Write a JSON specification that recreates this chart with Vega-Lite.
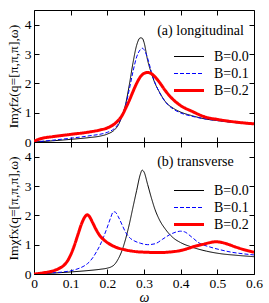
{
  "$schema": "https://vega.github.io/schema/vega-lite/v6.json",
  "padding": {"left": 5, "top": 9, "right": 13, "bottom": 0},
  "background": "white",
  "spacing": 0,
  "bounds": "flush",
  "config": {
    "view": {"stroke": "black", "strokeWidth": 1},
    "font": "Liberation Serif",
    "axis": {
      "domain": false, "grid": false, "tickColor": "black", "labelColor": "black",
      "labelFont": "Liberation Serif", "labelFontSize": 13.5, "titleFont": "Liberation Serif",
      "titleColor": "black", "titleFontWeight": "normal", "labelOverlap": false, "labelFlush": false
    },
    "axisX": {
      "values": [0, 0.05, 0.1, 0.15, 0.2, 0.25, 0.3, 0.35, 0.4, 0.45, 0.5, 0.55, 0.6],
      "tickSize": {"condition": {"test": "abs(datum.value*10 - round(datum.value*10)) < 0.000001", "value": -5}, "value": -3},
      "labelExpr": "abs(datum.value*10 - round(datum.value*10)) < 0.000001 ? (datum.value == 0 ? '0' : format(datum.value, '.1f')) : ''",
      "labelPadding": 7
    },
    "axisY": {
      "values": [0, 0.5, 1, 1.5, 2, 2.5, 3, 3.5, 4],
      "tickSize": {"condition": {"test": "datum.value % 1 == 0", "value": -5}, "value": -3},
      "labelExpr": "datum.value % 1 == 0 ? format(datum.value, 'd') : ''",
      "labelPadding": 8
    },
    "legend": {
      "orient": "none", "title": null, "symbolType": "stroke", "symbolSize": 900, "clipHeight": 13,
      "labelFontSize": 14, "labelFont": "Liberation Serif", "labelColor": "black",
      "rowPadding": 2, "padding": 0, "labelOffset": 18, "symbolOffset": 8
    }
  },
  "datasets": {
    "long": [
      {"B": "0.0", "w": 0, "v": 0}, {"B": "0.0", "w": 0.05, "v": 0.04}, {"B": "0.0", "w": 0.1, "v": 0.09}, {"B": "0.0", "w": 0.15, "v": 0.15}, {"B": "0.0", "w": 0.18, "v": 0.2}, {"B": "0.0", "w": 0.2, "v": 0.27}, {"B": "0.0", "w": 0.22, "v": 0.42}, {"B": "0.0", "w": 0.23, "v": 0.58}, {"B": "0.0", "w": 0.24, "v": 0.88}, {"B": "0.0", "w": 0.25, "v": 1.3}, {"B": "0.0", "w": 0.26, "v": 1.95}, {"B": "0.0", "w": 0.27, "v": 2.7}, {"B": "0.0", "w": 0.28, "v": 3.3}, {"B": "0.0", "w": 0.29, "v": 3.55}, {"B": "0.0", "w": 0.295, "v": 3.54}, {"B": "0.0", "w": 0.3, "v": 3.4}, {"B": "0.0", "w": 0.31, "v": 2.78}, {"B": "0.0", "w": 0.32, "v": 2.35}, {"B": "0.0", "w": 0.33, "v": 2.0}, {"B": "0.0", "w": 0.34, "v": 1.75}, {"B": "0.0", "w": 0.36, "v": 1.35}, {"B": "0.0", "w": 0.38, "v": 1.15}, {"B": "0.0", "w": 0.4, "v": 1.02}, {"B": "0.0", "w": 0.43, "v": 0.9}, {"B": "0.0", "w": 0.47, "v": 0.78}, {"B": "0.0", "w": 0.5, "v": 0.73}, {"B": "0.0", "w": 0.55, "v": 0.66}, {"B": "0.0", "w": 0.6, "v": 0.61},
      {"B": "0.1", "w": 0, "v": 0}, {"B": "0.1", "w": 0.05, "v": 0.06}, {"B": "0.1", "w": 0.1, "v": 0.13}, {"B": "0.1", "w": 0.15, "v": 0.21}, {"B": "0.1", "w": 0.2, "v": 0.33}, {"B": "0.1", "w": 0.22, "v": 0.47}, {"B": "0.1", "w": 0.23, "v": 0.62}, {"B": "0.1", "w": 0.24, "v": 0.88}, {"B": "0.1", "w": 0.25, "v": 1.25}, {"B": "0.1", "w": 0.26, "v": 1.8}, {"B": "0.1", "w": 0.27, "v": 2.4}, {"B": "0.1", "w": 0.28, "v": 2.9}, {"B": "0.1", "w": 0.29, "v": 3.15}, {"B": "0.1", "w": 0.295, "v": 3.2}, {"B": "0.1", "w": 0.3, "v": 3.15}, {"B": "0.1", "w": 0.31, "v": 2.85}, {"B": "0.1", "w": 0.32, "v": 2.4}, {"B": "0.1", "w": 0.33, "v": 2.02}, {"B": "0.1", "w": 0.34, "v": 1.74}, {"B": "0.1", "w": 0.36, "v": 1.34}, {"B": "0.1", "w": 0.38, "v": 1.12}, {"B": "0.1", "w": 0.4, "v": 0.99}, {"B": "0.1", "w": 0.43, "v": 0.88}, {"B": "0.1", "w": 0.47, "v": 0.78}, {"B": "0.1", "w": 0.5, "v": 0.73}, {"B": "0.1", "w": 0.55, "v": 0.66}, {"B": "0.1", "w": 0.6, "v": 0.61},
      {"B": "0.2", "w": 0, "v": 0.02}, {"B": "0.2", "w": 0.01, "v": 0.08}, {"B": "0.2", "w": 0.02, "v": 0.12}, {"B": "0.2", "w": 0.05, "v": 0.18}, {"B": "0.2", "w": 0.1, "v": 0.26}, {"B": "0.2", "w": 0.15, "v": 0.34}, {"B": "0.2", "w": 0.18, "v": 0.41}, {"B": "0.2", "w": 0.2, "v": 0.48}, {"B": "0.2", "w": 0.21, "v": 0.54}, {"B": "0.2", "w": 0.22, "v": 0.62}, {"B": "0.2", "w": 0.23, "v": 0.74}, {"B": "0.2", "w": 0.24, "v": 0.9}, {"B": "0.2", "w": 0.25, "v": 1.15}, {"B": "0.2", "w": 0.26, "v": 1.42}, {"B": "0.2", "w": 0.27, "v": 1.72}, {"B": "0.2", "w": 0.28, "v": 2.0}, {"B": "0.2", "w": 0.29, "v": 2.22}, {"B": "0.2", "w": 0.3, "v": 2.34}, {"B": "0.2", "w": 0.31, "v": 2.37}, {"B": "0.2", "w": 0.32, "v": 2.33}, {"B": "0.2", "w": 0.33, "v": 2.22}, {"B": "0.2", "w": 0.34, "v": 2.07}, {"B": "0.2", "w": 0.36, "v": 1.72}, {"B": "0.2", "w": 0.38, "v": 1.44}, {"B": "0.2", "w": 0.4, "v": 1.24}, {"B": "0.2", "w": 0.43, "v": 1.05}, {"B": "0.2", "w": 0.47, "v": 0.84}, {"B": "0.2", "w": 0.5, "v": 0.77}, {"B": "0.2", "w": 0.55, "v": 0.68}, {"B": "0.2", "w": 0.6, "v": 0.62}
    ],
    "trans": [
      {"B": "0.0", "w": 0, "v": 0}, {"B": "0.0", "w": 0.05, "v": 0.03}, {"B": "0.0", "w": 0.1, "v": 0.07}, {"B": "0.0", "w": 0.15, "v": 0.12}, {"B": "0.0", "w": 0.18, "v": 0.16}, {"B": "0.0", "w": 0.2, "v": 0.2}, {"B": "0.0", "w": 0.21, "v": 0.24}, {"B": "0.0", "w": 0.22, "v": 0.33}, {"B": "0.0", "w": 0.23, "v": 0.52}, {"B": "0.0", "w": 0.24, "v": 0.8}, {"B": "0.0", "w": 0.25, "v": 1.2}, {"B": "0.0", "w": 0.26, "v": 1.7}, {"B": "0.0", "w": 0.27, "v": 2.28}, {"B": "0.0", "w": 0.28, "v": 2.85}, {"B": "0.0", "w": 0.29, "v": 3.4}, {"B": "0.0", "w": 0.295, "v": 3.54}, {"B": "0.0", "w": 0.3, "v": 3.48}, {"B": "0.0", "w": 0.31, "v": 3.05}, {"B": "0.0", "w": 0.32, "v": 2.6}, {"B": "0.0", "w": 0.33, "v": 2.2}, {"B": "0.0", "w": 0.34, "v": 1.9}, {"B": "0.0", "w": 0.36, "v": 1.5}, {"B": "0.0", "w": 0.38, "v": 1.23}, {"B": "0.0", "w": 0.4, "v": 1.07}, {"B": "0.0", "w": 0.43, "v": 0.92}, {"B": "0.0", "w": 0.47, "v": 0.78}, {"B": "0.0", "w": 0.51, "v": 0.69}, {"B": "0.0", "w": 0.55, "v": 0.64}, {"B": "0.0", "w": 0.6, "v": 0.59},
      {"B": "0.1", "w": 0, "v": 0}, {"B": "0.1", "w": 0.05, "v": 0.04}, {"B": "0.1", "w": 0.08, "v": 0.07}, {"B": "0.1", "w": 0.1, "v": 0.11}, {"B": "0.1", "w": 0.12, "v": 0.18}, {"B": "0.1", "w": 0.14, "v": 0.3}, {"B": "0.1", "w": 0.15, "v": 0.4}, {"B": "0.1", "w": 0.16, "v": 0.55}, {"B": "0.1", "w": 0.17, "v": 0.75}, {"B": "0.1", "w": 0.18, "v": 0.98}, {"B": "0.1", "w": 0.19, "v": 1.27}, {"B": "0.1", "w": 0.2, "v": 1.6}, {"B": "0.1", "w": 0.21, "v": 1.95}, {"B": "0.1", "w": 0.215, "v": 2.1}, {"B": "0.1", "w": 0.22, "v": 2.12}, {"B": "0.1", "w": 0.23, "v": 1.95}, {"B": "0.1", "w": 0.24, "v": 1.68}, {"B": "0.1", "w": 0.25, "v": 1.42}, {"B": "0.1", "w": 0.26, "v": 1.25}, {"B": "0.1", "w": 0.275, "v": 1.12}, {"B": "0.1", "w": 0.29, "v": 1.05}, {"B": "0.1", "w": 0.31, "v": 1.0}, {"B": "0.1", "w": 0.33, "v": 1.03}, {"B": "0.1", "w": 0.35, "v": 1.18}, {"B": "0.1", "w": 0.37, "v": 1.34}, {"B": "0.1", "w": 0.39, "v": 1.44}, {"B": "0.1", "w": 0.4, "v": 1.46}, {"B": "0.1", "w": 0.41, "v": 1.44}, {"B": "0.1", "w": 0.43, "v": 1.26}, {"B": "0.1", "w": 0.45, "v": 1.06}, {"B": "0.1", "w": 0.48, "v": 0.92}, {"B": "0.1", "w": 0.51, "v": 0.82}, {"B": "0.1", "w": 0.54, "v": 0.74}, {"B": "0.1", "w": 0.57, "v": 0.69}, {"B": "0.1", "w": 0.6, "v": 0.65},
      {"B": "0.2", "w": 0, "v": 0}, {"B": "0.2", "w": 0.025, "v": 0.04}, {"B": "0.2", "w": 0.05, "v": 0.1}, {"B": "0.2", "w": 0.07, "v": 0.2}, {"B": "0.2", "w": 0.08, "v": 0.28}, {"B": "0.2", "w": 0.09, "v": 0.42}, {"B": "0.2", "w": 0.1, "v": 0.65}, {"B": "0.2", "w": 0.11, "v": 0.97}, {"B": "0.2", "w": 0.12, "v": 1.35}, {"B": "0.2", "w": 0.13, "v": 1.72}, {"B": "0.2", "w": 0.14, "v": 1.97}, {"B": "0.2", "w": 0.145, "v": 2.02}, {"B": "0.2", "w": 0.15, "v": 1.98}, {"B": "0.2", "w": 0.16, "v": 1.75}, {"B": "0.2", "w": 0.17, "v": 1.5}, {"B": "0.2", "w": 0.18, "v": 1.3}, {"B": "0.2", "w": 0.19, "v": 1.17}, {"B": "0.2", "w": 0.2, "v": 1.07}, {"B": "0.2", "w": 0.22, "v": 0.93}, {"B": "0.2", "w": 0.25, "v": 0.82}, {"B": "0.2", "w": 0.28, "v": 0.76}, {"B": "0.2", "w": 0.31, "v": 0.74}, {"B": "0.2", "w": 0.34, "v": 0.73}, {"B": "0.2", "w": 0.37, "v": 0.75}, {"B": "0.2", "w": 0.4, "v": 0.8}, {"B": "0.2", "w": 0.42, "v": 0.87}, {"B": "0.2", "w": 0.44, "v": 0.95}, {"B": "0.2", "w": 0.46, "v": 1.01}, {"B": "0.2", "w": 0.48, "v": 1.07}, {"B": "0.2", "w": 0.495, "v": 1.1}, {"B": "0.2", "w": 0.51, "v": 1.08}, {"B": "0.2", "w": 0.53, "v": 1.01}, {"B": "0.2", "w": 0.55, "v": 0.92}, {"B": "0.2", "w": 0.57, "v": 0.84}, {"B": "0.2", "w": 0.6, "v": 0.74}
    ]
  },
  "vconcat": [
    {
      "width": 220, "height": 132,
      "layer": [
        {
          "data": {"name": "long"},
          "mark": {"type": "line", "interpolate": "monotone", "clip": true},
          "encoding": {
            "x": {"field": "w", "type": "quantitative", "scale": {"domain": [0, 0.6], "nice": false}, "axis": {"orient": "bottom", "labels": false, "title": null}},
            "y": {"field": "v", "type": "quantitative", "scale": {"domain": [0, 4.5], "nice": false}, "axis": {"orient": "left", "title": "Imχfz(q=[π,π,π],ω)", "titleFontSize": 13.5, "titlePadding": 4}},
            "color": {"field": "B", "type": "nominal", "scale": {"domain": ["0.0", "0.1", "0.2"], "range": ["#000000", "#0000ff", "#ff0000"]},
              "legend": {"legendX": 140, "legendY": 40, "labelExpr": "'B=' + datum.label",
                "encode": {"symbols": {"update": {"strokeDash": {"signal": "datum.value === '0.1' ? [4, 2] : [1, 0]"}, "strokeWidth": {"signal": "datum.value === '0.2' ? 3 : 1"}}}}}},
            "strokeDash": {"condition": {"test": "datum.B === '0.1'", "value": [4, 2]}, "value": [1, 0]},
            "strokeWidth": {"condition": {"test": "datum.B === '0.2'", "value": 3}, "value": 1}
          }
        },
        {
          "data": {"values": [{"label": "(a) longitudinal"}]},
          "mark": {"type": "text", "align": "left", "baseline": "middle", "fontSize": 14, "font": "Liberation Serif", "color": "black"},
          "encoding": {
            "text": {"field": "label"},
            "x": {"datum": 0.336, "type": "quantitative", "axis": {"orient": "top", "labels": false, "title": null}},
            "y": {"datum": 3.79, "type": "quantitative", "axis": {"orient": "right", "labels": false, "title": null}}
          }
        }
      ],
      "resolve": {"axis": {"x": "independent", "y": "independent"}}
    },
    {
      "width": 220, "height": 132,
      "layer": [
        {
          "data": {"name": "trans"},
          "mark": {"type": "line", "interpolate": "monotone", "clip": true},
          "encoding": {
            "x": {"field": "w", "type": "quantitative", "scale": {"domain": [0, 0.6], "nice": false}, "axis": {"orient": "bottom", "title": "ω", "titleFontSize": 14, "titleFontStyle": "italic", "titleBaseline": "alphabetic", "titleY": 27}},
            "y": {"field": "v", "type": "quantitative", "scale": {"domain": [0, 4.5], "nice": false}, "axis": {"orient": "left", "title": "Imχfx(q=[π,π,π],ω)", "titleFontSize": 13.5, "titlePadding": 4}},
            "color": {"field": "B", "type": "nominal", "scale": {"domain": ["0.0", "0.1", "0.2"], "range": ["#000000", "#0000ff", "#ff0000"]},
              "legend": {"legendX": 140, "legendY": 42, "labelExpr": "'B=' + datum.label",
                "encode": {"symbols": {"update": {"strokeDash": {"signal": "datum.value === '0.1' ? [4, 2] : [1, 0]"}, "strokeWidth": {"signal": "datum.value === '0.2' ? 3 : 1"}}}}}},
            "strokeDash": {"condition": {"test": "datum.B === '0.1'", "value": [4, 2]}, "value": [1, 0]},
            "strokeWidth": {"condition": {"test": "datum.B === '0.2'", "value": 3}, "value": 1}
          }
        },
        {
          "data": {"values": [{"label": "(b) transverse"}]},
          "mark": {"type": "text", "align": "left", "baseline": "middle", "fontSize": 14, "font": "Liberation Serif", "color": "black"},
          "encoding": {
            "text": {"field": "label"},
            "x": {"datum": 0.336, "type": "quantitative", "axis": {"orient": "top", "labels": false, "title": null}},
            "y": {"datum": 3.82, "type": "quantitative", "axis": {"orient": "right", "labels": false, "title": null}}
          }
        }
      ],
      "resolve": {"axis": {"x": "independent", "y": "independent"}}
    }
  ],
  "resolve": {
    "scale": {"color": "independent"},
    "legend": {"color": "independent"}
  }
}
